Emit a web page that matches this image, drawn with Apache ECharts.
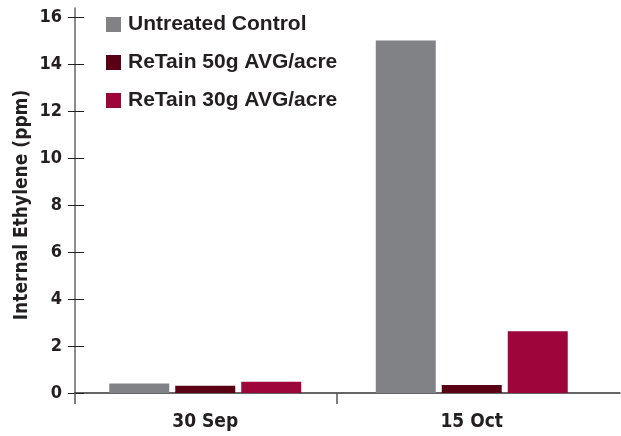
<!DOCTYPE html>
<html>
<head>
<meta charset="utf-8">
<script src="https://cdn.jsdelivr.net/npm/echarts@6/dist/echarts.min.js"></script>
<style>
html,body{margin:0;padding:0;background:#fff;}
#chart{width:621px;height:436px;}
</style>
</head>
<body>
<div id="chart"></div>
<script>
const categories = ['30 Sep', '15 Oct'];
const seriesNames = ['Untreated Control', 'ReTain 50g AVG/acre', 'ReTain 30g AVG/acre'];
const untreated = [0.4, 15.0];
const retain50 = [0.31, 0.34];
const retain30 = [0.48, 2.63];
const yTicks = { min: 0, max: 16, interval: 2 };
const yTitle = 'Internal Ethylene (ppm)';

const colors = ['#808285', '#5a0014', '#9e063b'];
const ink = '#231f20';
const condensed = "'DejaVu Sans Condensed', 'Liberation Sans Narrow', sans-serif";

const chart = echarts.init(document.getElementById('chart'), null, { renderer: 'canvas' });
const values = [untreated, retain50, retain30];

const gridBase = { outerBoundsMode: 'none', containLabel: false };

chart.setOption({
  animation: false,
  backgroundColor: '#ffffff',
  legend: {
    orient: 'vertical',
    left: 101,
    top: 9,
    itemWidth: 15,
    itemHeight: 15,
    itemGap: 17,
    icon: 'rect',
    data: seriesNames,
    textStyle: {
      fontFamily: "'Liberation Sans', Arial, sans-serif",
      fontWeight: 'bold',
      fontSize: 21,
      color: ink,
      padding: [0, 0, 0, 2]
    }
  },
  grid: [
    Object.assign({ left: 72, right: 16, top: 17, bottom: 43 }, gridBase),
    Object.assign({ left: 75, right: 1, top: 8, bottom: 43 }, gridBase),
    Object.assign({ left: 75, right: 284, top: 17, bottom: 43 }, gridBase),
    Object.assign({ left: 75, right: 1, top: 17, bottom: 43 }, gridBase)
  ],
  xAxis: [
    {
      type: 'category', gridIndex: 0, data: categories,
      axisLine: { show: false },
      axisTick: { show: false },
      axisLabel: {
        margin: 20,
        fontFamily: condensed, fontWeight: 'bold', fontSize: 19, color: ink
      }
    },
    {
      type: 'value', gridIndex: 1, min: 0, max: 1,
      axisLine: { show: true, lineStyle: { color: '#333', width: 1.5 } },
      axisTick: { show: false }, axisLabel: { show: false }, splitLine: { show: false }
    },
    {
      type: 'category', gridIndex: 2, data: [''],
      axisLine: { show: false },
      axisTick: { show: true, length: 11, lineStyle: { color: '#555', width: 1.5 } },
      axisLabel: { show: false }
    },
    {
      type: 'value', gridIndex: 3, min: 0, max: 1, show: false
    }
  ],
  yAxis: [
    {
      type: 'value', gridIndex: 0,
      min: yTicks.min, max: yTicks.max, interval: yTicks.interval,
      show: false
    },
    {
      type: 'value', gridIndex: 3, position: 'left',
      min: yTicks.min, max: yTicks.max, interval: yTicks.interval,
      name: yTitle, nameLocation: 'middle', nameGap: 43, nameMoveOverlap: false,
      nameTextStyle: { fontFamily: condensed, fontWeight: 'bold', fontSize: 19, color: ink },
      axisLine: { show: false },
      axisTick: { show: true, inside: false, length: 7, lineStyle: { color: ink } },
      axisLabel: { margin: 13, fontFamily: condensed, fontWeight: 'bold', fontSize: 18, color: ink },
      splitLine: { show: false }
    },
    {
      type: 'value', gridIndex: 3, position: 'left', offset: 0,
      min: yTicks.min, max: yTicks.max, interval: yTicks.interval,
      axisLine: { show: false },
      axisTick: { show: true, inside: true, length: 9, lineStyle: { color: ink } },
      axisLabel: { show: false },
      splitLine: { show: false }
    },
    {
      type: 'value', gridIndex: 1, min: 0, max: 1,
      axisLine: { show: true, lineStyle: { color: '#666', width: 1.5 } },
      axisTick: { show: false }, axisLabel: { show: false }, splitLine: { show: false }
    },
    {
      type: 'value', gridIndex: 2, min: 0, max: 1, show: false
    }
  ],
  series: seriesNames.map((name, i) => ({
    name: name,
    type: 'bar',
    xAxisIndex: 0,
    yAxisIndex: 0,
    barWidth: 60,
    barGap: '10%',
    itemStyle: { color: colors[i] },
    data: values[i]
  }))
});
</script>
</body>
</html>
